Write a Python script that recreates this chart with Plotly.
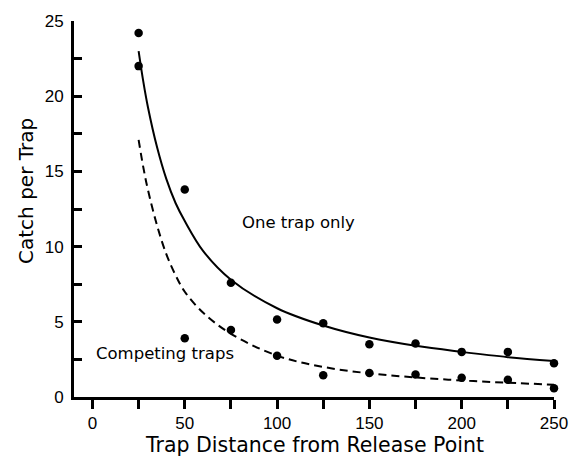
import plotly.graph_objects as go

# Observed data points
one_x = [25, 25, 50, 75, 100, 125, 150, 175, 200, 225, 250]
one_y = [24.2, 22.0, 13.8, 7.6, 5.15, 4.9, 3.5, 3.55, 3.0, 3.0, 2.25]

comp_x = [50, 75, 100, 125, 150, 175, 200, 225, 250]
comp_y = [3.9, 4.45, 2.75, 1.45, 1.6, 1.5, 1.28, 1.15, 0.58]

# Fitted curves
curve_x = [25, 27.5, 30, 35, 40, 45, 50, 60, 75, 100, 125, 150, 175, 200, 225, 250]
one_curve = [23.0, 21.0, 19.3, 16.6, 14.5, 12.9, 11.7, 9.7, 7.8, 5.9, 4.75, 3.95, 3.4, 3.0, 2.65, 2.4]
comp_curve = [17.1, 15.3, 13.8, 11.4, 9.5, 8.1, 7.0, 5.6, 4.2, 2.75, 2.0, 1.57, 1.3, 1.1, 0.95, 0.82]

x_ticks = [0, 50, 100, 150, 200, 250]
y_ticks = [0, 5, 10, 15, 20, 25]

TICK_FONT = dict(family="Liberation Sans, Arial, sans-serif", size=17, color="black")
XTITLE_FONT = dict(family="DejaVu Sans, sans-serif", size=20.5, color="black")
YTITLE_FONT = dict(family="DejaVu Sans, sans-serif", size=20, color="black")
NOTE_FONT = dict(family="DejaVu Sans, sans-serif", size=16.5, color="black")

fig = go.Figure()
fig.add_trace(go.Scatter(x=curve_x, y=one_curve, mode="lines",
                         line=dict(color="black", width=2, shape="spline"),
                         cliponaxis=False, showlegend=False))
fig.add_trace(go.Scatter(x=curve_x, y=comp_curve, mode="lines",
                         line=dict(color="black", width=2, shape="spline", dash="8px,5px"),
                         cliponaxis=False, showlegend=False))
fig.add_trace(go.Scatter(x=one_x, y=one_y, mode="markers",
                         marker=dict(color="black", size=8.5),
                         cliponaxis=False, showlegend=False))
fig.add_trace(go.Scatter(x=comp_x, y=comp_y, mode="markers",
                         marker=dict(color="black", size=8.5),
                         cliponaxis=False, showlegend=False))

fig.add_annotation(x=111.5, y=11.6, xref="x", yref="y", text="One trap only",
                   showarrow=False, font=NOTE_FONT, xanchor="center", yanchor="middle")
fig.add_annotation(x=39.5, y=2.9, xref="x", yref="y", text="Competing traps",
                   showarrow=False, font=NOTE_FONT, xanchor="center", yanchor="middle")
fig.add_annotation(x=0.5, y=-0.128, xref="paper", yref="paper",
                   text="Trap Distance from Release Point",
                   showarrow=False, font=XTITLE_FONT, xanchor="center", yanchor="middle")
fig.add_annotation(x=-0.1, y=13.7, xref="paper", yref="y", text="Catch per Trap",
                   textangle=-90, showarrow=False, font=YTITLE_FONT,
                   xanchor="center", yanchor="middle")

fig.update_xaxes(range=[-10, 250], tickvals=x_ticks, ticktext=[str(v) for v in x_ticks],
                 showline=True, linecolor="black", linewidth=3,
                 ticks="outside", ticklen=9, tickwidth=2.5, tickcolor="black",
                 minor=dict(ticks="outside", dtick=25, tick0=0, ticklen=9, tickwidth=2.5, tickcolor="black"),
                 showgrid=False, zeroline=False, tickfont=TICK_FONT)
fig.update_yaxes(range=[0, 25], tickvals=y_ticks, ticktext=[str(v) for v in y_ticks],
                 showline=True, linecolor="black", linewidth=3,
                 ticks="inside", ticklen=8, tickwidth=2.5, tickcolor="black",
                 minor=dict(ticks="inside", dtick=2.5, tick0=0, ticklen=8, tickwidth=2.5, tickcolor="black"),
                 ticklabelstandoff=4,
                 showgrid=False, zeroline=False, tickfont=TICK_FONT)

fig.update_layout(width=580, height=462,
                  margin=dict(l=74, r=17, t=17, b=65),
                  paper_bgcolor="white", plot_bgcolor="white")

fig.write_html("out.html")
